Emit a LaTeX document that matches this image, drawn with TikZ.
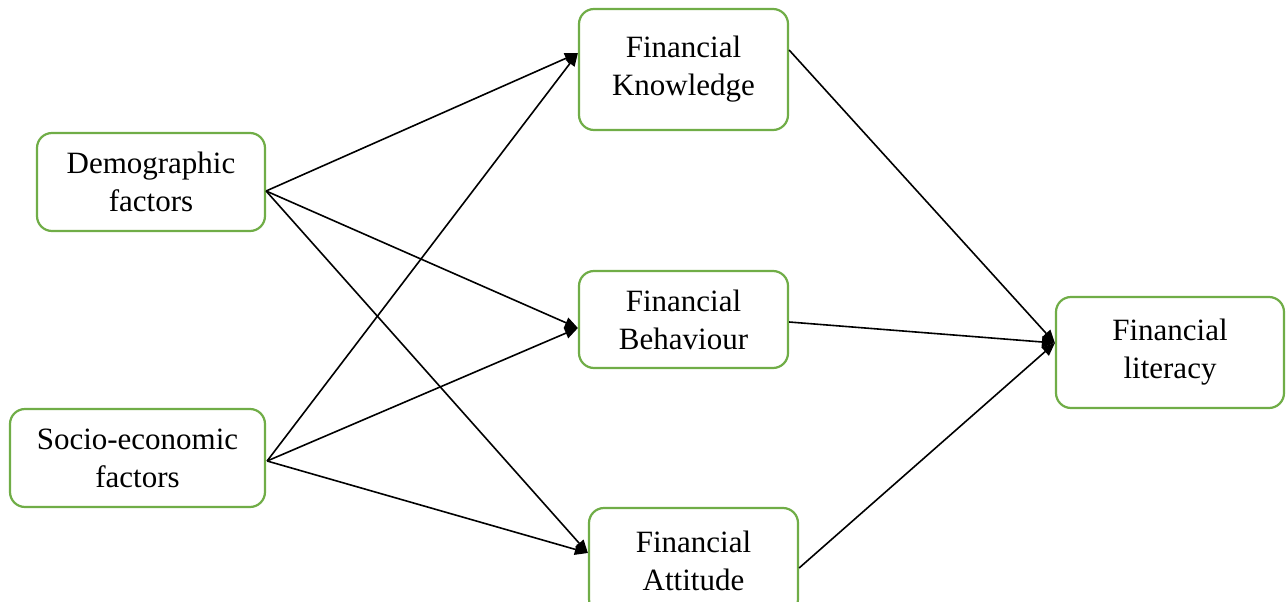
\documentclass[tikz,border=0pt]{standalone}
\usepackage{fontspec}
\setmainfont{Liberation Serif}
\usetikzlibrary{arrows.meta,calc}
\definecolor{boxgreen}{HTML}{70AD47}
\begin{document}
\begin{tikzpicture}[x=1pt,y=-1pt,
  box/.style={draw=boxgreen,line width=2.2pt,rounded corners=15pt,fill=white,
    align=center,inner sep=0pt,font=\fontsize{31}{38}\selectfont},
  link/.style={line width=1.6pt,-{Triangle[length=13pt,width=11pt]}}]
\useasboundingbox (0,0) rectangle (1287,602);
\node[box,minimum width=228pt,minimum height=98pt] (dem) at (151,182) {Demographic\\factors};
\node[box,minimum width=255pt,minimum height=98pt] (soc) at (137.5,458) {Socio-economic\\factors};
\node[box,minimum width=209pt,minimum height=121pt] (kn) at (683.5,69.5) {Financial\\Knowledge};
\node[box,minimum width=209pt,minimum height=97pt] (beh) at (683.5,319.5) {Financial\\Behaviour};
\node[box,minimum width=209pt,minimum height=106pt] (att) at (693.5,561) {Financial\\Attitude};
\node[box,minimum width=228pt,minimum height=111pt] (lit) at (1170,352.5) {Financial\\literacy};
\coordinate (demS) at ($(dem.east)+(0,9)$);
\coordinate (socS) at ($(soc.east)+(1,3)$);
\draw[link] (demS) -- ($(kn.west)+(0,-16.5)$);
\draw[link] (demS) -- ($(beh.west)+(0,8.5)$);
\draw[link] (demS) -- ($(att.west)+(0,-8)$);
\draw[link] (socS) -- ($(kn.west)+(0,-16.5)$);
\draw[link] (socS) -- ($(beh.west)+(0,8.5)$);
\draw[link] (socS) -- ($(att.west)+(0,-8)$);
\draw[link] ($(kn.east)+(0,-19.5)$) -- ($(lit.west)+(0,-9.5)$);
\draw[link] ($(beh.east)+(0,2.5)$) -- ($(lit.west)+(0,-9.5)$);
\draw[link] ($(att.east)+(0,7)$) -- ($(lit.west)+(0,-9.5)$);
\end{tikzpicture}
\end{document}
